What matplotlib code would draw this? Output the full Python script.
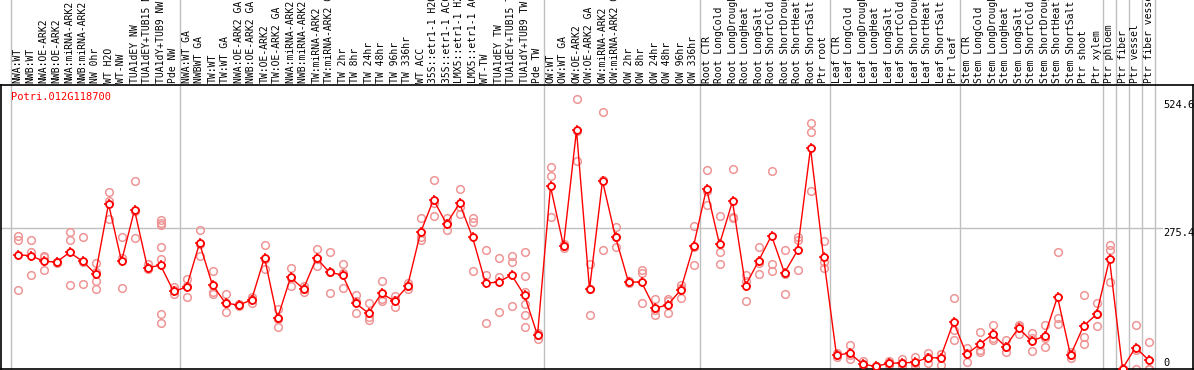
# -*- coding: UTF-8 -*-

import matplotlib
matplotlib.use('Agg')
import matplotlib.pyplot as plt

gene = 'Potri.012G118700'

samples = [
    'NWA:WT', 'NWB:WT', 'NWA:OE-ARK2', 'NWB:OE-ARK2', 'NWA:miRNA-ARK2', 'NWB:miRNA-ARK2',
    'NW 0hr', 'WT H2O', 'WT-NW', 'TUA1dEY NW', 'TUA1dEY+TUB15 NW', 'TUA1dY+TUB9 NW', 'Pde NW',
    'NWA:WT GA', 'NWBWT GA', 'TW:WT', 'TW:WT GA', 'NWA:OE-ARK2 GA', 'NWB:OE-ARK2 GA',
    'TW:OE-ARK2', 'TW:OE-ARK2 GA', 'NWA:miRNA-ARK2 GA', 'NWB:miRNA-ARK2 GA', 'TW:miRNA-ARK2',
    'TW:miRNA-ARK2 GA', 'TW 2hr', 'TW 8hr', 'TW 24hr', 'TW 48hr', 'TW 96hr', 'TW 336hr',
    'WT ACC', '35S::etr1-1 H2O', '35S::etr1-1 ACC', 'LMX5::etr1-1 H2O', 'LMX5::etr1-1 ACC',
    'WT-TW', 'TUA1dEY TW', 'TUA1dEY+TUB15 TW', 'TUA1dY+TUB9 TW', 'Pde TW',
    'OW:WT', 'OW:WT GA', 'OW:OE-ARK2', 'OW:OE-ARK2 GA', 'OW:miRNA-ARK2', 'OW:miRNA-ARK2 GA',
    'OW 2hr', 'OW 8hr', 'OW 24hr', 'OW 48hr', 'OW 96hr', 'OW 336hr',
    'Root CTR', 'Root LongCold', 'Root LongDrought', 'Root LongHeat', 'Root LongSalt',
    'Root ShortCold', 'Root ShortDrought', 'Root ShortHeat', 'Root ShortSalt', 'Ptr root',
    'Leaf CTR', 'Leaf LongCold', 'Leaf LongDrought', 'Leaf LongHeat', 'Leaf LongSalt',
    'Leaf ShortCold', 'Leaf ShortDrought', 'Leaf ShortHeat', 'Leaf ShortSalt', 'Ptr leaf',
    'Stem CTR', 'Stem LongCold', 'Stem LongDrought', 'Stem LongHeat', 'Stem LongSalt',
    'Stem ShortCold', 'Stem ShortDrought', 'Stem ShortHeat', 'Stem ShortSalt', 'Ptr shoot',
    'Ptr xylem', 'Ptr phloem', 'Ptr fiber', 'Ptr vessel', 'Ptr fiber vessel',
]

# number of samples in each block (grey separators)
group_sizes = [13, 28, 12, 10, 10, 11, 1, 1, 1, 1]

means = [222, 221, 210, 208, 227, 210, 185, 322, 210, 310, 197, 202, 151,
         159, 245, 163, 128, 124, 134, 217, 98, 178, 156, 216, 188, 183, 128, 108,
         147, 132, 161, 266, 330, 283, 323, 257, 167, 169, 183, 143, 65,
         356, 240, 466, 155, 367, 257, 169, 169, 118, 124, 153, 239,
         352, 243, 327, 162, 210, 260, 187, 231, 431, 218,
         26, 30, 9, 4, 10, 11, 12, 21, 21, 91,
         28, 47, 67, 43, 79, 54, 63, 140, 26, 83, 106,
         214, 0, 41, 17]

reps = [
    [259, 251, 153], [251, 228, 182], [221, 219, 192], [209, 208, 207], [267, 251, 163],
    [257, 165, 208], [206, 189, 172, 155], [345, 328, 292], [257, 157, 216], [367, 255, 308],
    [204, 197, 195], [290, 285, 281, 238, 215, 107, 89], [160, 154, 146],
    [176, 139, 162], [271, 221, 243], [190, 150, 146], [146, 110, 128], [122, 124, 126],
    [139, 128, 135], [242, 195, 214], [116, 81, 97], [196, 161, 177], [150, 156, 162],
    [233, 200, 215], [227, 148, 189], [204, 187, 157], [144, 108, 132], [128, 95, 101],
    [171, 135, 132], [142, 120, 134], [161, 155, 167], [294, 257, 251], [369, 298, 323],
    [294, 271, 284], [351, 302, 316], [294, 286, 191], [231, 183, 89], [216, 179, 110],
    [221, 208, 122], [227, 181, 150, 126, 105, 81], [65, 58, 70],
    [395, 376, 296], [236, 240, 244], [528, 406, 464], [205, 104, 156], [501, 231, 369],
    [276, 237, 258], [167, 169, 171], [192, 187, 129], [135, 104, 115], [135, 132, 108],
    [164, 137, 158], [278, 202, 237],
    [388, 320, 348], [298, 228, 204], [390, 296, 295], [183, 132, 171], [238, 185, 207],
    [386, 204, 190], [231, 146, 184], [257, 251, 192], [481, 462, 347], [249, 208, 197],
    [22, 26, 30], [45, 18, 27], [15, 9, 3], [4, 3, 5], [15, 10, 6], [18, 10, 4],
    [22, 4, 10], [30, 10, 23], [28, 7, 28], [137, 75, 55],
    [40, 13, 31], [71, 36, 32], [86, 55, 60], [55, 32, 42], [84, 68, 85], [69, 34, 59],
    [86, 43, 60], [227, 99, 88], [32, 20, 26], [143, 61, 47], [128, 83, 107],
    [241, 232, 169], [0, 0, 0], [86, 0, 37], [51, 0, 0],
]

y_ticks = [0, 275.4, 524.6]

# figure geometry in pixels
W, H = 1194, 370
px0, px1 = 1, 1193        # axes frame left / right
py_top, py_bot = 85, 369  # axes frame top / bottom
step = 13.0
c0 = 17.5                 # pixel centre of first sample

fig = plt.figure(figsize=(W / 100, H / 100), dpi=100)
ax = fig.add_axes([px0 / W, 1 - py_bot / H, (px1 - px0) / W, (py_bot - py_top) / H])

ax.set_xlim((px0 - c0) / step, (px1 - c0) / step)
scale = 0.5113
ax.set_ylim(-(py_bot - 368.5) / scale, (368.5 - py_top) / scale)
ax.set_xticks([])
ax.set_yticks([])
for s in ax.spines.values():
    s.set_color('black')
    s.set_linewidth(1.2)

mono = 'DejaVu Sans Mono'
ext = (py_bot - 0) / (py_bot - py_top)

# group separators, running up through the label strip
b = -0.5
ax.axvline(b, ymin=0, ymax=ext, color='#c0c0c0', lw=1, clip_on=False, zorder=0)
for g in group_sizes:
    b += g
    ax.axvline(b, ymin=0, ymax=ext, color='#c0c0c0', lw=1, clip_on=False, zorder=0)

# horizontal reference line
ax.plot([(px0 - c0) / step, (1162 - c0) / step], [275.4, 275.4], color='#c0c0c0', lw=1, zorder=0)

x = list(range(len(samples)))

# replicate points
rep_col = '#ef9595'
for i, vals in enumerate(reps):
    xs = [i] * len(vals)
    ax.plot(xs, vals, ls='none', marker='o', ms=5.5, mew=1.1, mfc='none', mec=rep_col, zorder=1)

# mean line
ax.plot(x, means, color='red', lw=1, zorder=2)
ax.plot(x, means, ls='none', marker='+', ms=7, mew=1.1, color='red', zorder=3)
ax.plot(x, means, ls='none', marker='o', ms=5, mew=1.3, mfc='white', mec='red', zorder=4)

# sample labels (vertical, above the frame)
for i, lab in enumerate(samples):
    ax.text(i, 1.0 + 2 / (py_bot - py_top), lab, transform=ax.get_xaxis_transform(),
            rotation=90, ha='center', va='bottom', family=mono, fontsize=7,
            clip_on=False)

# y value labels on the right
xl = (1163 - c0) / step
for v in y_ticks:
    ax.text(xl, v, ('%g' % v) if v else '0', ha='left',
            va='bottom' if v == 0 else 'top', family=mono, fontsize=7.5)

ax.text(0.008, 0.975, gene, transform=ax.transAxes, color='red', ha='left', va='top',
        family=mono, fontsize=7.5)

fig.savefig('out.png', dpi=100)
